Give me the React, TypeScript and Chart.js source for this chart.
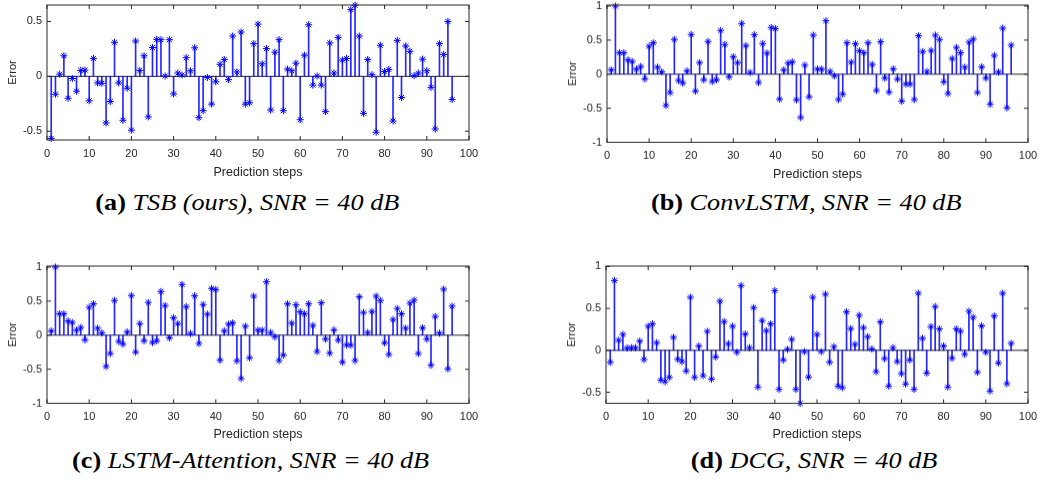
import React, { useEffect, useRef } from 'react';
import { Chart, registerables } from 'chart.js';

Chart.register(...registerables);

// ---------- data ----------
const steps: number[] = Array.from({ length: 96 }, (_, i) => i + 1);

const tsbError: number[] = [
  -0.565, -0.163, 0.02, 0.187, -0.2, -0.02, -0.135, 0.054, 0.057, -0.223,
  0.163, -0.06, -0.063, -0.425, -0.229, 0.31, -0.06, -0.4, -0.108, -0.49,
  0.322, 0.054, 0.187, -0.37, 0.262, 0.337, 0.334, 0.003, 0.334, -0.16,
  0.03, 0.012, 0.17, 0.05, 0.26, -0.377, -0.313, -0.01, -0.253, -0.05,
  0.11, 0.154, -0.03, 0.367, 0.04, 0.404, -0.253, -0.241, 0.298, 0.476,
  0.114, 0.253, -0.307, 0.22, 0.334, -0.313, 0.066, 0.051, 0.12, -0.395,
  0.193, 0.47, -0.08, 0.003, -0.08, -0.322, 0.304, 0.03, 0.355, 0.148,
  0.163, 0.608, 0.648, 0.367, -0.337, 0.154, 0.015, -0.509, 0.283, 0.045,
  0.063, -0.407, 0.328, -0.193, 0.277, 0.229, 0.006, 0.03, 0.157, 0.051,
  -0.1, -0.48, 0.298, 0.2, 0.5, -0.211,
];

const convLstmError: number[] = [
  0.064, 1.0, 0.314, 0.314, 0.21, 0.186, 0.074, 0.113, -0.069, 0.41,
  0.46, 0.103, 0.034, -0.46, -0.27, 0.51, -0.093, -0.132, 0.049, 0.583,
  -0.25, 0.17, -0.083, 0.48, -0.108, -0.083, 0.642, 0.436, -0.04, 0.255,
  0.17, 0.745, 0.42, 0.025, 0.578, -0.122, 0.45, 0.309, 0.686, 0.67,
  -0.368, 0.064, 0.162, 0.18, -0.377, -0.637, 0.132, -0.333, 0.573, 0.075,
  0.074, 0.784, 0.04, -0.025, -0.373, -0.294, 0.46, 0.176, 0.446, 0.343,
  0.314, 0.46, 0.142, -0.24, 0.475, -0.059, -0.265, 0.078, -0.074, -0.397,
  -0.147, -0.147, -0.373, 0.564, 0.333, 0.04, 0.348, 0.573, 0.51, -0.113,
  -0.284, 0.23, 0.392, 0.314, 0.103, 0.47, 0.515, -0.27, 0.108, -0.059,
  -0.441, 0.275, 0.03, 0.676, -0.495, 0.426,
];

const lstmAttentionError: number[] = [
  0.064, 1.0, 0.314, 0.314, 0.21, 0.186, 0.074, 0.113, -0.069, 0.41,
  0.46, 0.103, 0.034, -0.46, -0.27, 0.51, -0.093, -0.132, 0.049, 0.583,
  -0.25, 0.17, -0.083, 0.48, -0.108, -0.083, 0.642, 0.436, -0.04, 0.255,
  0.17, 0.745, 0.42, 0.025, 0.578, -0.122, 0.45, 0.309, 0.686, 0.67,
  -0.368, 0.064, 0.162, 0.18, -0.377, -0.637, 0.132, -0.333, 0.573, 0.075,
  0.074, 0.784, 0.04, -0.025, -0.373, -0.294, 0.46, 0.176, 0.446, 0.343,
  0.314, 0.46, 0.142, -0.24, 0.475, -0.059, -0.265, 0.078, -0.074, -0.397,
  -0.147, -0.147, -0.373, 0.564, 0.333, 0.04, 0.348, 0.573, 0.51, -0.113,
  -0.284, 0.23, 0.392, 0.314, 0.103, 0.47, 0.515, -0.27, 0.108, -0.059,
  -0.441, 0.275, 0.03, 0.676, -0.495, 0.426,
];

const dcgError: number[] = [
  -0.143, 0.833, 0.12, 0.19, 0.028, 0.032, 0.032, 0.11, -0.11, 0.287,
  0.315, 0.092, -0.355, -0.375, -0.323, 0.155, -0.108, -0.135, -0.247, 0.633,
  -0.323, 0.052, -0.303, 0.227, -0.343, -0.08, 0.586, 0.343, 0.08, 0.287,
  -0.024, 0.773, 0.195, 0.032, 0.51, -0.438, 0.355, 0.235, 0.315, 0.713,
  -0.466, -0.116, 0.012, 0.131, -0.466, -0.633, -0.016, -0.319, 0.633, 0.19,
  -0.016, 0.67, -0.143, 0.044, -0.426, -0.446, 0.458, 0.259, 0.072, 0.418,
  0.271, 0.163, 0.016, -0.255, 0.339, -0.1, -0.426, 0.032, -0.135, -0.279,
  -0.402, -0.116, -0.466, 0.681, 0.143, -0.271, 0.283, 0.522, 0.255, 0.052,
  -0.438, -0.096, 0.255, 0.227, -0.048, 0.466, 0.394, -0.263, 0.291, -0.024,
  -0.486, 0.41, -0.151, 0.681, -0.398, 0.084,
];

const xTicks: number[] = [0, 10, 20, 30, 40, 50, 60, 70, 80, 90, 100];
const yTicksA: number[] = [-0.5, 0, 0.5];
const yTicksBC: number[] = [-1, -0.5, 0, 0.5, 1];
const yTicksD: number[] = [-0.5, 0, 0.5, 1];

const panelTags: string[] = ['(a)', '(b)', '(c)', '(d)'];
const panelTitles: string[] = [
  'TSB (ours), SNR = 40 dB',
  'ConvLSTM, SNR = 40 dB',
  'LSTM-Attention, SNR = 40 dB',
  'DCG, SNR = 40 dB',
];
const xLabel = 'Prediction steps';
const yLabel = 'Error';

// ---------- drawing ----------
const SANS = "'Liberation Sans', Arial, Helvetica, sans-serif";
const SERIF = "'Liberation Serif', 'Times New Roman', serif";
const AXIS = '#262626';
const BLUE = '#0000ff';

const axesBox = {
  id: 'axesBox',
  beforeDatasetsDraw(chart: any) {
    const { ctx, chartArea, scales } = chart;
    const y0 = scales.y.getPixelForValue(0);
    ctx.save();
    ctx.strokeStyle = AXIS;
    ctx.lineWidth = 1;
    ctx.beginPath();
    ctx.moveTo(chartArea.left, y0);
    ctx.lineTo(chartArea.right, y0);
    ctx.stroke();
    ctx.restore();
  },
  afterDraw(chart: any) {
    const { ctx, chartArea, scales } = chart;
    const { left, right, top, bottom } = chartArea;
    const tl = 4;
    ctx.save();
    ctx.strokeStyle = AXIS;
    ctx.lineWidth = 1;
    ctx.strokeRect(left, top, right - left, bottom - top);
    ctx.beginPath();
    scales.x.ticks.forEach((t: any) => {
      const px = scales.x.getPixelForValue(t.value);
      ctx.moveTo(px, bottom);
      ctx.lineTo(px, bottom - tl);
      ctx.moveTo(px, top);
      ctx.lineTo(px, top + tl);
    });
    scales.y.ticks.forEach((t: any) => {
      const py = scales.y.getPixelForValue(t.value);
      ctx.moveTo(left, py);
      ctx.lineTo(left + tl, py);
      ctx.moveTo(right, py);
      ctx.lineTo(right - tl, py);
    });
    ctx.stroke();
    ctx.restore();
  },
};

type PanelProps = {
  values: number[];
  yMin: number;
  yMax: number;
  yTicks: number[];
  L: number;
  T: number;
  R: number;
  B: number;
  padB: number;
};

function StemPanel({ values, yMin, yMax, yTicks, L, T, R, B, padB }: PanelProps) {
  const ref = useRef<HTMLCanvasElement>(null);
  const padL = 47;
  const padT = 8;
  const padR = 12;
  const w = R - L + padL + padR;
  const h = B - T + padT + padB;

  useEffect(() => {
    const pts = steps.map((s, i) => ({ x: s, y: values[i] }));
    const chart = new Chart(ref.current as HTMLCanvasElement, {
      type: 'scatter',
      data: {
        datasets: [
          {
            type: 'scatter',
            data: pts,
            pointStyle: 'star',
            pointRadius: 3.5,
            borderWidth: 1,
            borderColor: BLUE,
            backgroundColor: BLUE,
            clip: false,
          } as any,
          {
            type: 'bar',
            data: pts,
            backgroundColor: 'rgba(0,0,255,0.85)',
            borderWidth: 0,
            barThickness: 1,
          } as any,
        ],
      },
      options: {
        responsive: false,
        animation: false,
        events: [],
        layout: { padding: { left: 0, top: padT, right: padR, bottom: 0 } },
        plugins: { legend: { display: false }, tooltip: { enabled: false } },
        scales: {
          x: {
            type: 'linear',
            min: 0,
            max: 100,
            offset: false,
            grid: { display: false, drawTicks: false, offset: false },
            border: { display: false },
            afterBuildTicks: (s: any) => {
              s.ticks = xTicks.map((v) => ({ value: v }));
            },
            ticks: {
              padding: 7,
              color: AXIS,
              autoSkip: false,
              maxRotation: 0,
              font: { family: SANS, size: 11 },
              callback: (v: any) => String(v),
            },
            title: {
              display: true,
              text: xLabel,
              color: AXIS,
              font: { family: SANS, size: 12.5 },
              padding: { top: 0, bottom: 0 },
            },
            afterFit: (s: any) => {
              s.height = padB;
              s.paddingLeft = 0;
              s.paddingRight = 0;
            },
          },
          y: {
            type: 'linear',
            min: yMin,
            max: yMax,
            grid: { display: false, drawTicks: false },
            border: { display: false },
            afterBuildTicks: (s: any) => {
              s.ticks = yTicks.map((v) => ({ value: v }));
            },
            ticks: {
              padding: 5,
              color: AXIS,
              font: { family: SANS, size: 11 },
              callback: (v: any) => String(v),
            },
            title: {
              display: true,
              text: yLabel,
              color: AXIS,
              font: { family: SANS, size: 11 },
              padding: { top: 6.4, bottom: 0 },
            },
            afterFit: (s: any) => {
              s.width = padL;
              s.paddingTop = 0;
              s.paddingBottom = 0;
            },
          },
        },
      } as any,
      plugins: [axesBox],
    });
    return () => chart.destroy();
  }, []);

  return (
    <canvas
      ref={ref}
      width={w}
      height={h}
      style={{ position: 'absolute', left: L - padL, top: T - padT, width: w, height: h }}
    />
  );
}

function Caption({ idx, cx, top }: { idx: number; cx: number; top: number }) {
  return (
    <div
      style={{
        position: 'absolute',
        left: cx - 300,
        top,
        width: 600,
        textAlign: 'center',
        fontFamily: SERIF,
        fontSize: 23,
        lineHeight: '23px',
        color: '#000',
        whiteSpace: 'nowrap',
      }}
    >
      <span style={{ display: 'inline-block', transform: 'scaleX(1.14)' }}>
        <b>{panelTags[idx]}</b> <i>{panelTitles[idx]}</i>
      </span>
    </div>
  );
}

export default function App() {
  return (
    <div
      style={{
        position: 'absolute',
        left: 0,
        top: 0,
        width: 1040,
        height: 485,
        background: '#fff',
        overflow: 'hidden',
      }}
    >
      <StemPanel values={tsbError} yMin={-0.58} yMax={0.65} yTicks={yTicksA} L={47} T={5} R={469} B={140} padB={40} />
      <StemPanel values={convLstmError} yMin={-1} yMax={1.015} yTicks={yTicksBC} L={607} T={5} R={1028} B={142} padB={39.5} />
      <StemPanel values={lstmAttentionError} yMin={-1} yMax={1.015} yTicks={yTicksBC} L={47} T={266} R={469} B={403} padB={38.5} />
      <StemPanel values={dcgError} yMin={-0.632} yMax={1.005} yTicks={yTicksD} L={606} T={266} R={1028} B={403} padB={38.5} />
      <Caption idx={0} cx={247.5} top={191} />
      <Caption idx={1} cx={806} top={191} />
      <Caption idx={2} cx={251} top={449} />
      <Caption idx={3} cx={814.5} top={449} />
    </div>
  );
}
